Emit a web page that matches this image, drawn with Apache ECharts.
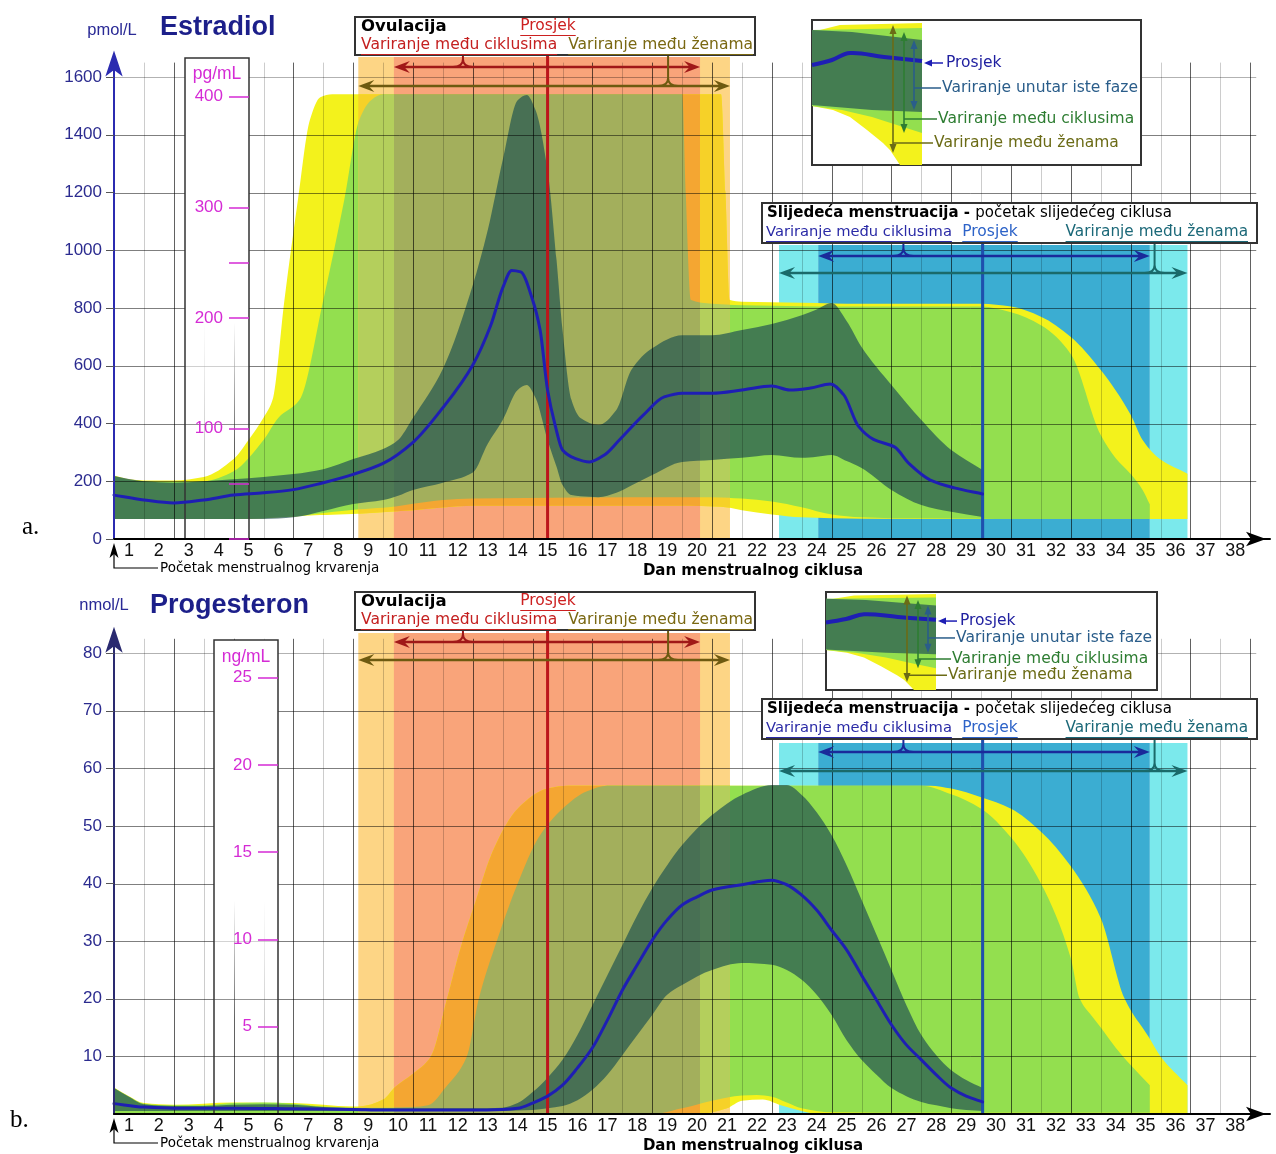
<!DOCTYPE html>
<html>
<head>
<meta charset="utf-8">
<title>Estradiol i progesteron tijekom menstrualnog ciklusa</title>
<script src="https://cdn.jsdelivr.net/npm/echarts@6.0.0/dist/echarts.min.js"></script>
<style>
html,body{margin:0;padding:0;background:#fff;}
#chart{width:1276px;height:1154px;}
</style>
</head>
<body>
<div id="chart"></div>
<script>
// ================= DATA =================
const dayLabels = [1,2,3,4,5,6,7,8,9,10,11,12,13,14,15,16,17,18,19,20,21,22,23,24,25,26,27,28,29,30,31,32,33,34,35,36,37,38];

const ovuMean = 14.5;
const ovuCycle = [9.36, 19.6];
const ovuWomen = [8.17, 20.6];
const nextMean = 29.05;
const nextCycle = [23.55, 34.64];
const nextWomen = [22.24, 35.9];

const PG_FACTOR = 3.83;   // pmol/L per pg/mL (as drawn)
const NG_FACTOR = 3.03;   // nmol/L per ng/mL (as drawn)

// ---- Estradiol (pmol/L) ----
const eMeanX = [0,1,2,3,4,5,6,7,8,9, 10,11,12,12.6,13,13.3,13.6,14,14.25,14.5, 14.75,15,15.4,15.9,16.4,16.9,17.7,18.4,19,20, 21,22,22.6,23.3,23.95,24.4,24.9,25.4,26.1,26.6, 27.3,28.1,29.05];
const eMean  = [152,135,125,135,152,160,171,195,224,262, 335,455,603,740,870,930,925,828,724,516, 395,308,280,267,291,343,429,492,505,505, 516,530,516,523,537,500,390,345,319,260, 204,177,156];

const eDarkX  = [0,1,2,3,4,5,6,7,8,9, 9.5,10,11,12,12.5,13,13.5,13.8,14.1,14.5, 14.8,15.0,15.3,15.6,16.2,16.8,17.3,18,19,20, 21,22,23,23.5,24,24.5,25,26,27,28, 29.05];
const eDarkHi = [218,200,195,200,207,215,225,242,277,312, 343,420,590,880,1070,1313,1520,1538,1485,1278, 966,724,481,419,395,447,585,661,706,706, 724,745,775,795,817,755,665,533,412,308, 239];
const eDarkLo = [69,69,69,69,69,69,75,97,121,135, 150,170,195,230,330,412,516,533,488,343, 250,187,152,148,145,160,185,222,267,274, 281,291,281,285,291,270,246,170,118,94, 76];

const eGreenX  = [0,0.5,1,2,3,4,5,5.5,6.2,7, 7.7,8.2,8.6,9,10,11,12,19.0,19.12,19.3, 20,21,22,23,24,25,26,29,30,31, 32,33,33.5,34,34.4,34.64];
const eGreenHi = [218,205,200,198,200,235,343,420,481,828, 1174,1451,1520,1540,1540,1540,1540,1540,1200,828, 815,810,808,806,805,805,805,805,785,740, 640,360,280,225,170,120];
const eGreenLo = [69,69,69,69,69,69,72,75,80,90, 98,103,106,108,122,135,140,145,145,145, 145,140,130,110,85,75,72,70,69,69, 69,69,69,69,69,69];

const eYelX  = [0,0.5,1,2,3,4,4.5,5,5.3,5.7, 6.15,6.55,6.9,7.3,10,12,19,20.3,20.45,20.6, 21,22,23,24,25,29,30,31,32,33, 34,34.4,35,35.9];
const eYelHi = [220,207,203,203,215,277,343,420,481,828, 1174,1451,1530,1540,1540,1540,1540,1540,1200,828, 822,820,818,816,815,815,805,770,700,585, 430,343,275,226];
const eYelLo = [69,69,69,69,69,69,70,72,74,76, 79,81,83,84,100,115,115,112,110,108, 100,85,75,72,70,69,69,69,69,69, 69,69,69,69];

// ---- Progesteron (nmol/L) ----
const pMeanX = [0,1,2,4,6,8,9,10,11,12, 13,13.5,14,14.5,15,15.5,16,16.5,17,17.5, 18,18.5,19,19.5,20,21,22,22.5,23,23.5, 24,24.5,25,25.5,26,26.5,27,27.5,28,28.5, 29.05];
const pMean  = [1.8,1.2,1.0,1.0,0.9,0.8,0.7,0.7,0.7,0.7, 0.8,1.0,1.9,3.1,5.0,8,11.5,16.3,21.5,25.9, 30.2,33.7,36.3,37.7,38.9,39.8,40.6,39.8,38.0,35.4, 31.9,28.5,24.1,19.8,15.5,12,9.4,6.8,4.5,3.1, 2.1];

const pDarkX  = [0,0.5,1,2,3,4,5,6,7,8, 9,10,11,12,13,13.5,14,14.5,15,15.5, 16,16.5,17,17.5,18,18.5,19,20,21,22, 22.5,23,23.5,24,24.5,25,25.5,26,26.5,27, 27.5,28,28.5,29.05];
const pDarkHi = [4.5,3.0,1.7,1.4,1.4,1.6,1.7,1.6,1.2,1.0, 1.0,1.0,1.0,1.0,1.1,1.9,3.8,6.3,9.4,13.7, 18.9,24.1,29.3,34.5,39.2,43.2,46.7,51.9,55.4,57.1, 57.1,55.4,52.4,48.4,43.2,37.2,31.1,25.0,18.9,13.7, 10.2,7.6,5.9,4.5];
const pDarkLo = [0.5,0.5,0.5,0.5,0.5,0.5,0.5,0.5,0.5,0.5, 0.5,0.5,0.5,0.5,0.5,0.6,0.7,1.0,1.4,2.4, 4.2,6.8,10.2,13.7,17.2,20.7,22.4,25.0,26.2,25.9, 25.0,23.3,20.7,17.2,12.8,9.4,6.8,4.5,3.1,2.1, 1.5,1.0,0.7,0.5];

const pGreenX  = [0,0.5,1,2,3,4,5,6,7,8, 9,10,10.5,11.1,11.8,12.2,12.8,13.5,14.2,15, 15.8,16.5,18,19,20,21,21.5,22,22.5,23, 24,27,28,29,30,31,32,32.3,32.7,33, 33.5,34,34.64];
const pGreenHi = [4.5,3.0,1.8,1.5,1.5,1.9,2.0,1.8,1.3,1.1, 1.1,1.2,1.5,4.7,10,20,30,40,48,53, 56,57,57,57,57,57,57,57,57,57, 57,57,55.5,53,48,40,27,20,17,15, 11.5,8.5,5];
const pGreenLo = [0,0,0,0,0,0,0,0,0,0, 0,0,0,0,0,0,0,0,0,0, 0,0,0,1.0,2.3,3.2,3.3,3.0,2.0,1.0, 0.3,0.2,0.2,0.2,0.2,0.2,0.2,0.2,0.2,0.2, 0.2,0.2,0.2];

const pYelX  = [0,0.5,1,2,4,6,8,8.2,9,9.4, 10,10.6,11.14,11.6,12.1,12.7,13.5,14.5,15.2,19.5, 20.5,21,21.7,22.3,23,23.5,27.3,28,29,30, 31,32,33,33.8,34.6,35, 35.9];
const pYelHi = [4.6,3.1,1.9,1.6,2.0,1.9,1.3,1.3,2.5,4.7, 7,10,20,29,37,46,53,56.5,57,57, 57,57,57,57,57,57,57,56.5,55,53, 49,43,34,20,13.4,10, 5];
const pYelLo = [0,0,0,0,0,0,0,0,0,0, 0,0,0,0,0,0,0,0,0,0, 1.0,2.3,2.5,1.5,0.5,0,0,0,0,0, 0,0,0,0,0,0, 0];

// Axis tick values
const eTicks = [0,200,400,600,800,1000,1200,1400,1600];
const pgTicks = [0,50,100,200,250,300,400];
const pgLabels = [100,200,300,400];
const pTicks = [10,20,30,40,50,60,70,80];
const ngTicks = [5,10,15,20,25];

// ================= LAYOUT / STYLE =================
const GL = 114, XMAX = 38.66, GW = 1156;
const A_TOP = 62.6, A_H = 476.4, A_MAX = 1650, A_BASE = 539;
const B_TOP = 638.8, B_H = 475.2, B_MAX = 82.5, B_BASE = 1114;
const ya = py => (A_BASE - py) / (A_H / A_MAX);
const yb = py => (B_BASE - py) / (B_H / B_MAX);

const NUMF = '"Liberation Sans", Arial, sans-serif';
const NARROW = '"Liberation Sans Narrow", "Liberation Sans", Arial, sans-serif';
const ANN = '"DejaVu Sans", Verdana, sans-serif';
const SERIF = '"Liberation Serif", "DejaVu Serif", serif';
const MAG = '#d52bd5';

const C_YEL = '#f3f21c', C_GRN = '#93df4f', C_DARK = 'rgba(38,88,82,0.72)';
const C_SAL = '#f9a47a', C_LOR = '#fdd585', C_CYAN = '#7be9ec', C_BLUE = '#3badd2';
const C_YEL_SAL = '#f4a632', C_GRN_SAL = '#a3af5c';
const C_YEL_LOR = '#f6d128', C_GRN_LOR = '#b4cf5c';
const C_MEAN = '#1e1eb4', C_RED = '#bc161b', C_BLINE = '#1f4fae';

// ================= HELPERS =================
function monoPath(pts, first) {
  const n = pts.length;
  const f = v => v.toFixed(2);
  let d = (first ? 'M' : 'L') + f(pts[0][0]) + ' ' + f(pts[0][1]);
  if (n < 2) return d;
  const dx = [], m = [];
  for (let i = 0; i < n - 1; i++) {
    dx.push(pts[i + 1][0] - pts[i][0]);
    m.push((pts[i + 1][1] - pts[i][1]) / dx[i]);
  }
  const t = [m[0]];
  for (let i = 1; i < n - 1; i++) {
    if (m[i - 1] * m[i] <= 0) t.push(0);
    else {
      const w1 = 2 * dx[i] + dx[i - 1], w2 = dx[i] + 2 * dx[i - 1];
      t.push((w1 + w2) / (w1 / m[i - 1] + w2 / m[i]));
    }
  }
  t.push(m[n - 2]);
  for (let i = 0; i < n - 1; i++) {
    const h = dx[i] / 3;
    d += ' C' + [pts[i][0] + h, pts[i][1] + t[i] * h, pts[i + 1][0] - h, pts[i + 1][1] - t[i + 1] * h, pts[i + 1][0], pts[i + 1][1]].map(f).join(' ');
  }
  return d;
}
function bandPath(api, xs, lo, hi) {
  const top = xs.map((x, i) => api.coord([x, hi[i]]));
  const bot = xs.map((x, i) => api.coord([x, lo[i]])).reverse();
  return monoPath(top, true) + ' ' + monoPath(bot, false) + ' Z';
}
function custom(gi, z, render, clip) {
  return { type: 'custom', coordinateSystem: 'cartesian2d', xAxisIndex: gi, yAxisIndex: gi * 2,
    data: [[0, 0]], z: z, silent: true, clip: !!clip, animation: false, renderItem: render };
}
function band(gi, xs, lo, hi, style, z) {
  return custom(gi, z, (p, api) => ({ type: 'path', shape: { pathData: bandPath(api, xs, lo, hi) }, style: style }));
}
// bands re-drawn inside an ovulation window with the tinted colours
function windowBands(gi, x1, x2, yTop, list, z) {
  return custom(gi, z, (p, api) => {
    const a = api.coord([x1, yTop]), b = api.coord([x2, 0]);
    return { type: 'group',
      clipPath: { type: 'rect', shape: { x: a[0], y: a[1], width: b[0] - a[0], height: b[1] - a[1] } },
      children: list.map(bd => ({ type: 'path', shape: { pathData: bandPath(api, bd.xs, bd.lo, bd.hi) }, style: { fill: bd.color } })) };
  });
}
function vrect(gi, x1, x2, y1, y2, style, z) {
  return custom(gi, z, (p, api) => {
    const a = api.coord([x1, y2]), b = api.coord([x2, y1]);
    return { type: 'rect', shape: { x: a[0], y: a[1], width: b[0] - a[0], height: b[1] - a[1] }, style: style };
  });
}
function meanLine(gi, xs, ys, z) {
  return custom(gi, z, (p, api) => ({ type: 'path',
    shape: { pathData: monoPath(xs.map((x, i) => api.coord([x, ys[i]])), true) },
    style: { fill: 'none', stroke: C_MEAN, lineWidth: 3, lineJoin: 'round', lineCap: 'round' } }));
}
function vline(gi, x, yTop, color, w, z) {
  return custom(gi, z, (p, api) => {
    const a = api.coord([x, 0]), b = api.coord([x, yTop]);
    return { type: 'line', shape: { x1: a[0], y1: a[1], x2: b[0], y2: b[1] }, style: { stroke: color, lineWidth: w } };
  });
}
function gridLines(gi, yTop, hVals) {
  return custom(gi, 6, (p, api) => {
    const ch = [];
    dayLabels.forEach(d => {
      const a = api.coord([d, 0]), b = api.coord([d, yTop]);
      const x = Math.round(a[0]) + 0.5;
      ch.push({ type: 'line', shape: { x1: x, y1: a[1], x2: x, y2: b[1] },
        style: { stroke: d % 2 === 0 ? 'rgba(0,0,0,0.62)' : 'rgba(0,0,0,0.2)', lineWidth: 1 } });
    });
    hVals.forEach((v, i) => {
      const a = api.coord([0, v]), b = api.coord([38.2, v]);
      const y = Math.round(a[1]) + 0.5;
      ch.push({ type: 'line', shape: { x1: a[0], y1: y, x2: b[0], y2: y },
        style: { stroke: i === hVals.length - 1 ? 'rgba(0,0,0,0.3)' : 'rgba(0,0,0,0.5)', lineWidth: 1 } });
    });
    return { type: 'group', children: ch };
  });
}
function dayText(gi) {
  return custom(gi, 9, (p, api) => ({ type: 'group', children: dayLabels.map(d => {
    const c = api.coord([d - 0.5, 0]);
    return { type: 'text', x: c[0], y: c[1] + 12, style: { text: String(d), font: '18px ' + NARROW, fill: '#111',
      align: 'center', verticalAlign: 'middle', textAlign: 'center', textVerticalAlign: 'middle' } };
  }) }));
}
function braceArrow(gi, x1, x2, yv, bx, btop, color) {
  return custom(gi, 9, (p, api) => {
    const a = api.coord([x1, yv]), b = api.coord([x2, yv]), c = api.coord([bx, yv]), t = api.coord([bx, btop]);
    const y = a[1], hl = 16, hw = 6;
    return { type: 'group', children: [
      { type: 'line', shape: { x1: a[0] + 8, y1: y, x2: b[0] - 8, y2: y }, style: { stroke: color, lineWidth: 2.5 } },
      { type: 'polygon', shape: { points: [[a[0], y], [a[0] + hl, y - hw], [a[0] + hl * 0.65, y], [a[0] + hl, y + hw]] }, style: { fill: color } },
      { type: 'polygon', shape: { points: [[b[0], y], [b[0] - hl, y - hw], [b[0] - hl * 0.65, y], [b[0] - hl, y + hw]] }, style: { fill: color } },
      { type: 'path', shape: { pathData: 'M' + (c[0] - 10) + ' ' + y + ' Q' + c[0] + ' ' + y + ' ' + c[0] + ' ' + (y - 8) +
          ' L' + c[0] + ' ' + t[1] + ' M' + c[0] + ' ' + (y - 8) + ' Q' + c[0] + ' ' + y + ' ' + (c[0] + 10) + ' ' + y },
        style: { fill: 'none', stroke: color, lineWidth: 2 } }
    ] };
  });
}

// ================= GRAPHIC (annotations) =================
const G = [];
const mctx = document.createElement('canvas').getContext('2d');
function textW(s, font) { mctx.font = font; return mctx.measureText(s).width; }
function T(x, y, s, o) {
  o = o || {};
  const size = o.size || 15, weight = o.weight || 'normal', fam = o.family || ANN;
  const font = weight + ' ' + size + 'px ' + fam;
  const align = o.align || 'left';
  const color = o.color || '#000';
  G.push({ type: 'text', x: x, y: y, z: o.z || 60, silent: true,
    style: { text: s, font: font, fill: color, align: align, verticalAlign: 'middle', textAlign: align, textVerticalAlign: 'middle' } });
  const w = textW(s, font);
  if (o.underline) {
    const x0 = align === 'center' ? x - w / 2 : (align === 'right' ? x - w : x);
    const uy = Math.round(y + size * 0.6) + 0.5;
    G.push({ type: 'line', z: o.z || 60, silent: true, shape: { x1: x0, y1: uy, x2: x0 + w, y2: uy }, style: { stroke: color, lineWidth: 1 } });
  }
  return w;
}
function R(x, y, w, h, z, fill) {
  G.push({ type: 'rect', z: z, silent: true, shape: { x: x, y: y, width: w, height: h }, style: { fill: fill || '#fff', stroke: '#333', lineWidth: 2 } });
}
function unitBox(x1, x2, top, bottom) {
  G.push({ type: 'rect', z: 7, silent: true, shape: { x: x1, y: top, width: x2 - x1, height: bottom - top },
    style: { fill: { type: 'linear', x: 0, y: 0, x2: 0, y2: 1, colorStops: [
      { offset: 0, color: 'rgba(255,255,255,1)' }, { offset: 0.55, color: 'rgba(255,255,255,1)' },
      { offset: 0.8, color: 'rgba(255,255,255,0)' }, { offset: 1, color: 'rgba(255,255,255,0)' }] } } });
  G.push({ type: 'polyline', z: 8, silent: true, shape: { points: [[x1, bottom], [x1, top], [x2, top], [x2, bottom]] },
    style: { stroke: '#333', lineWidth: 1.5, fill: 'none' } });
}
function ovuBox(oy) {
  R(355, oy, 400, 38, 40);
  T(361, oy + 10, 'Ovulacija', { weight: 'bold', size: 16.5 });
  T(548, oy + 9, 'Prosjek', { color: '#cc2020', underline: true, align: 'center', size: 15.5 });
  T(361, oy + 28, 'Variranje među ciklusima', { color: '#c42020', underline: true, size: 15.5 });
  T(753, oy + 28, 'Variranje među ženama', { color: '#7a6812', underline: true, align: 'right', size: 15.5 });
}
function nextBox(oy) {
  R(762, oy, 495, 40, 40);
  const w = T(767, oy + 10, 'Slijedeća menstruacija', { weight: 'bold' });
  const w2 = T(767 + w, oy + 10, ' - ', { weight: 'bold' });
  T(767 + w + w2, oy + 10, 'početak slijedećeg ciklusa');
  T(766, oy + 29, 'Variranje među ciklusima', { color: '#2a2aa6', underline: true, size: 14.7 });
  T(990, oy + 29, 'Prosjek', { color: '#2d63c8', underline: true, align: 'center', size: 15.5 });
  T(1248, oy + 29, 'Variranje među ženama', { color: '#1b6878', underline: true, align: 'right', size: 15.3 });
}
function vArrow(x, y1, y2, color) {
  G.push({ type: 'line', z: 43, silent: true, shape: { x1: x, y1: y1 + 4, x2: x, y2: y2 - 4 }, style: { stroke: color, lineWidth: 1.6 } });
  G.push({ type: 'polygon', z: 43, silent: true, shape: { points: [[x, y1], [x - 3.5, y1 + 9], [x + 3.5, y1 + 9]] }, style: { fill: color } });
  G.push({ type: 'polygon', z: 43, silent: true, shape: { points: [[x, y2], [x - 3.5, y2 - 9], [x + 3.5, y2 - 9]] }, style: { fill: color } });
}
function legendBox(ox, oy, w, sy) {
  const P = (x, y) => [ox + x, oy + y * sy];
  R(ox, oy, w, 145 * sy, 40);
  const yel = [[0,12],[28,5],[110,3],[110,145],[88,145],[78,130],[71,123],[55,110],[38,97],[21,90],[0,86]];
  const grn = [[0,10],[110,8],[110,113],[88,106],[60,97],[30,90],[0,86]];
  const drk = [[0,10],[40,12],[110,20],[110,92],[60,90],[0,85]];
  G.push({ type: 'polygon', z: 41, silent: true, shape: { points: yel.map(p => P(p[0], p[1])) }, style: { fill: C_YEL } });
  G.push({ type: 'polygon', z: 41, silent: true, shape: { points: grn.map(p => P(p[0], p[1])) }, style: { fill: C_GRN } });
  G.push({ type: 'polygon', z: 41, silent: true, shape: { points: drk.map(p => P(p[0], p[1])) }, style: { fill: C_DARK } });
  G.push({ type: 'polyline', z: 42, silent: true, shape: { points: [[0,45],[20,40],[38,33],[72,37],[110,41]].map(p => P(p[0], p[1])), smooth: 0.4 },
    style: { stroke: C_MEAN, lineWidth: 4, fill: 'none' } });
  const ol = '#6b6b16', gr = '#2e7d32', bl = '#2a5d8a';
  vArrow(ox + 81, oy + 5 * sy, oy + 133 * sy, ol);
  vArrow(ox + 92, oy + 12 * sy, oy + 113 * sy, gr);
  vArrow(ox + 102, oy + 20 * sy, oy + 90 * sy, bl);
  const ts = 15.5;
  const yP = oy + 43 * sy;
  G.push({ type: 'line', z: 43, silent: true, shape: { x1: ox + 118, y1: yP, x2: ox + 131, y2: yP }, style: { stroke: C_MEAN, lineWidth: 1.5 } });
  G.push({ type: 'polygon', z: 43, silent: true, shape: { points: [[ox + 112, yP], [ox + 120, yP - 3.5], [ox + 120, yP + 3.5]] }, style: { fill: C_MEAN } });
  T(ox + 134, yP, 'Prosjek', { color: '#2020a0', z: 44, size: ts });
  const yU = oy + 68 * sy;
  G.push({ type: 'line', z: 43, silent: true, shape: { x1: ox + 102, y1: yU, x2: ox + 129, y2: yU }, style: { stroke: bl, lineWidth: 1.5 } });
  T(ox + 130, yU, 'Variranje unutar iste faze', { color: bl, z: 44, size: ts });
  const yC = oy + 99 * sy;
  G.push({ type: 'line', z: 43, silent: true, shape: { x1: ox + 92, y1: yC, x2: ox + 125, y2: yC }, style: { stroke: gr, lineWidth: 1.5 } });
  T(ox + 126, yC, 'Variranje među ciklusima', { color: gr, z: 44, size: ts });
  const yZ = oy + 123 * sy;
  G.push({ type: 'line', z: 43, silent: true, shape: { x1: ox + 81, y1: yZ, x2: ox + 121, y2: yZ }, style: { stroke: ol, lineWidth: 1.5 } });
  T(ox + 122, yZ, 'Variranje među ženama', { color: ol, z: 44, size: ts });
}
function startNote(ay) {
  G.push({ type: 'polyline', z: 50, silent: true, shape: { points: [[114, ay + 12], [114, ay + 29], [158, ay + 29]] },
    style: { stroke: '#000', lineWidth: 1.2, fill: 'none' } });
  G.push({ type: 'polygon', z: 50, silent: true, shape: { points: [[114, ay + 4], [109.5, ay + 19], [114, ay + 15], [118.5, ay + 19]] }, style: { fill: '#000' } });
  T(160, ay + 29, 'Početak menstrualnog krvarenja', { size: 13.5 });
  T(753, ay + 32, 'Dan menstrualnog ciklusa', { size: 15, weight: 'bold', align: 'center' });
}

// Panel a annotations
T(112, 30, 'pmol/L', { size: 16.5, family: NUMF, color: '#2a2a96', align: 'center' });
T(160, 28, 'Estradiol', { size: 27, weight: 'bold', family: NUMF, color: '#1c1f8a' });
unitBox(185, 249, 58, A_BASE);
T(217, 74, 'pg/mL', { size: 17.5, family: NUMF, color: MAG, align: 'center', z: 21 });
T(22, 527, 'a.', { size: 25, family: SERIF });
ovuBox(17);
nextBox(203);
legendBox(812, 20, 329, 1);
startNote(A_BASE);

// Panel b annotations
T(104, 605, 'nmol/L', { size: 16.5, family: NUMF, color: '#2a2a96', align: 'center' });
T(150, 606, 'Progesteron', { size: 27, weight: 'bold', family: NUMF, color: '#1c1f8a' });
unitBox(214, 278, 640, B_BASE);
T(246, 657, 'ng/mL', { size: 17.5, family: NUMF, color: MAG, align: 'center', z: 21 });
T(10, 1120, 'b.', { size: 25, family: SERIF });
ovuBox(592);
nextBox(699);
legendBox(826, 592, 331, 98 / 145);
startNote(B_BASE);

// ================= SERIES =================
function panelSeries(gi, yMax, yv, d, hVals) {
  const s = [];
  const nxTop = yv(gi === 0 ? 245 : 743);
  const ovTop = yv(gi === 0 ? 57 : 633);
  s.push(vrect(gi, nextWomen[0], nextCycle[0], 0, nxTop, { fill: C_CYAN }, 1));
  s.push(vrect(gi, nextCycle[1], nextWomen[1], 0, nxTop, { fill: C_CYAN }, 1));
  s.push(vrect(gi, nextCycle[0], nextCycle[1], 0, nxTop, { fill: C_BLUE }, 1));
  s.push(vrect(gi, ovuWomen[0], ovuWomen[1], 0, ovTop, { fill: C_LOR }, 1));
  s.push(vrect(gi, ovuCycle[0], ovuCycle[1], 0, ovTop, { fill: C_SAL }, 1));
  s.push(band(gi, d.yx, d.ylo, d.yhi, { fill: C_YEL }, 2));
  s.push(band(gi, d.gx, d.glo, d.ghi, { fill: C_GRN }, 3));
  s.push(windowBands(gi, ovuWomen[0], ovuWomen[1], ovTop, [
    { xs: d.yx, lo: d.ylo, hi: d.yhi, color: C_YEL_LOR }, { xs: d.gx, lo: d.glo, hi: d.ghi, color: C_GRN_LOR }], 4));
  s.push(windowBands(gi, ovuCycle[0], ovuCycle[1], ovTop, [
    { xs: d.yx, lo: d.ylo, hi: d.yhi, color: C_YEL_SAL }, { xs: d.gx, lo: d.glo, hi: d.ghi, color: C_GRN_SAL }], 4.5));
  s.push(band(gi, d.dx, d.dlo, d.dhi, { fill: C_DARK }, 5));
  s.push(gridLines(gi, yMax, hVals));
  s.push(vline(gi, ovuMean, yv(gi === 0 ? 34 : 609), C_RED, 3, 8));
  s.push(vline(gi, nextMean, yv(gi === 0 ? 231 : 727), C_BLINE, 3, 8));
  s.push(meanLine(gi, d.mx, d.m, 9));
  s.push(braceArrow(gi, ovuCycle[0], ovuCycle[1], yv(gi === 0 ? 67 : 642), 11.67, yv(gi === 0 ? 55 : 630), '#a01818'));
  s.push(braceArrow(gi, ovuWomen[0], ovuWomen[1], yv(gi === 0 ? 86 : 660), 18.53, yv(gi === 0 ? 55 : 630), '#6e5a10'));
  s.push(braceArrow(gi, nextCycle[0], nextCycle[1], yv(gi === 0 ? 256 : 752), 26.4, yv(gi === 0 ? 243 : 739), '#1a2a9a'));
  s.push(braceArrow(gi, nextWomen[0], nextWomen[1], yv(gi === 0 ? 273 : 771), 34.8, yv(gi === 0 ? 243 : 739), '#1a6a6a'));
  s.push(dayText(gi));
  return s;
}

const series = [].concat(
  panelSeries(0, A_MAX, ya, { yx: eYelX, ylo: eYelLo, yhi: eYelHi, gx: eGreenX, glo: eGreenLo, ghi: eGreenHi,
    dx: eDarkX, dlo: eDarkLo, dhi: eDarkHi, mx: eMeanX, m: eMean }, eTicks.slice(1)),
  panelSeries(1, B_MAX, yb, { yx: pYelX, ylo: pYelLo, yhi: pYelHi, gx: pGreenX, glo: pGreenLo, ghi: pGreenHi,
    dx: pDarkX, dlo: pDarkLo, dhi: pDarkHi, mx: pMeanX, m: pMean }, pTicks)
);

function xAxisDef(gi) {
  return { type: 'value', gridIndex: gi, min: 0, max: XMAX, interval: 1, z: 20,
    axisLabel: { show: false }, axisTick: { show: false }, splitLine: { show: false },
    axisLine: { show: true, onZero: true, symbol: ['none', 'arrow'], symbolSize: [11, 20], symbolOffset: [0, -4],
      lineStyle: { color: '#000', width: 2 } } };
}
function mainY(gi, max, ticks, lineColor) {
  return { type: 'value', gridIndex: gi, min: 0, max: max, interval: gi === 0 ? 200 : 10, z: 20,
    axisLine: { show: true, onZero: false, symbol: ['none', 'arrow'], symbolSize: [13, 26], symbolOffset: [0, 12],
      lineStyle: { color: lineColor, width: 2 } },
    axisTick: { show: true, length: 8, customValues: ticks, lineStyle: { color: '#555' } },
    axisLabel: { customValues: ticks, formatter: v => String(Math.round(v)), color: '#2b2b8f', fontSize: 17, fontFamily: NUMF, margin: 12 },
    splitLine: { show: false } };
}
function unitY(gi, max, offset, ticks, labels, interval) {
  return { type: 'value', gridIndex: gi, position: 'left', offset: offset, min: 0, max: max, interval: interval, z: 20,
    axisLine: { show: false, onZero: false },
    axisTick: { show: true, length: 20, customValues: ticks, lineStyle: { color: MAG, width: 1.5 } },
    axisLabel: { customValues: labels, formatter: v => String(Math.round(v)), color: MAG, fontSize: 17, fontFamily: NUMF, margin: 26 },
    splitLine: { show: false } };
}

const option = {
  backgroundColor: '#ffffff',
  animation: false,
  grid: [
    { left: GL, top: A_TOP, width: GW, height: A_H, outerBoundsMode: 'none' },
    { left: GL, top: B_TOP, width: GW, height: B_H, outerBoundsMode: 'none' }
  ],
  xAxis: [xAxisDef(0), xAxisDef(1)],
  yAxis: [
    mainY(0, A_MAX, eTicks, '#2b2bb0'),
    unitY(0, A_MAX / PG_FACTOR, -135, pgTicks, pgLabels, 50),
    mainY(1, B_MAX, pTicks, '#2a2a70'),
    unitY(1, B_MAX / NG_FACTOR, -164, ngTicks, ngTicks, 5)
  ],
  series: series,
  graphic: { elements: G }
};

const chart = echarts.init(document.getElementById('chart'), null, { renderer: 'canvas' });
chart.setOption(option);
</script>
</body>
</html>
